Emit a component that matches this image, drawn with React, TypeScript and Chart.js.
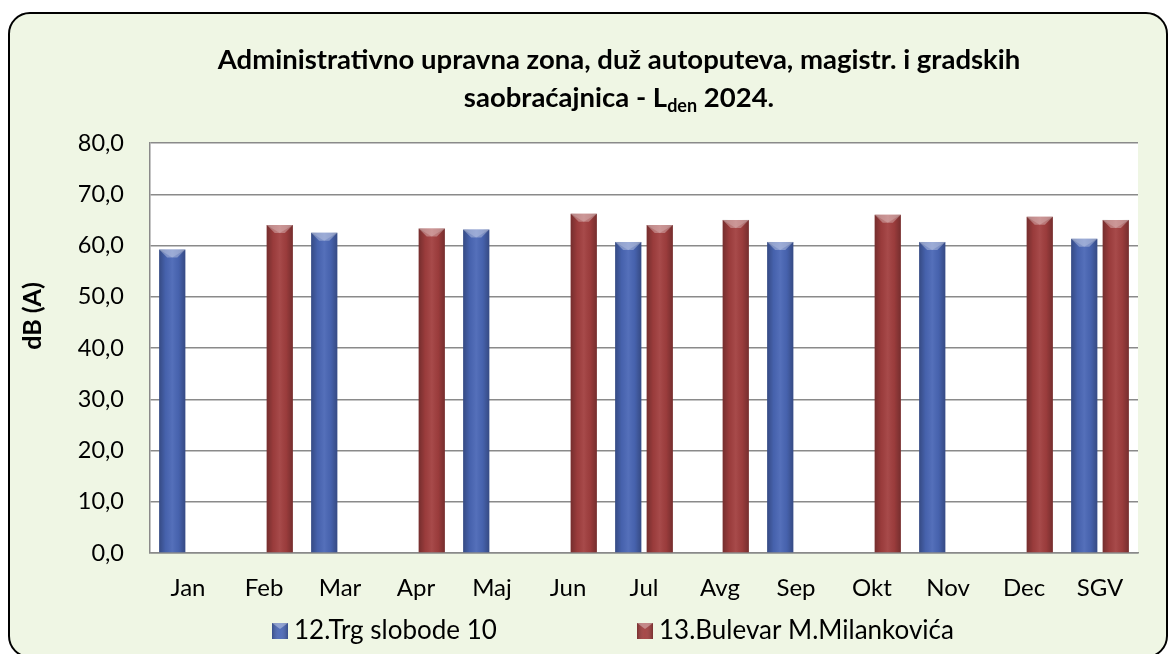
import React, { useEffect, useRef } from "react";
import { Chart, registerables } from "chart.js";

Chart.register(...registerables);

// ---- data ----
const categories = ["Jan", "Feb", "Mar", "Apr", "Maj", "Jun", "Jul", "Avg", "Sep", "Okt", "Nov", "Dec", "SGV"];
const trgSlobode = [59.2, null, 62.5, null, 63.1, null, 60.7, null, 60.7, null, 60.7, null, 61.3];
const bulevarMilankovica = [null, 64.0, null, 63.3, null, 66.2, 64.0, 65.0, null, 66.0, null, 65.6, 65.0];
const seriesNames = ["12.Trg slobode 10", "13.Bulevar M.Milankovića"];
const yMin = 0;
const yMax = 80;
const yStep = 10;
const titleLine1 = "Administrativno upravna zona, duž autoputeva, magistr. i gradskih";
const titleLine2 = ["saobraćajnica - L", "den", " 2024."];
const yAxisTitle = "dB (A)";

// ---- style ----
const FONT = "Lato, 'Open Sans', sans-serif";
const BLUE = "#4A67B6";
const RED = "#A23F3F";
const GRID = "#8a8a8a";
const CANVAS_W = 1156;
const CANVAS_H = 642;

const decorPlugin = {
  id: "decor",
  beforeDraw(chart: any) {
    const { ctx, chartArea: a } = chart;
    ctx.save();
    ctx.fillStyle = "#ffffff";
    ctx.fillRect(a.left, a.top, a.right - a.left, a.bottom - a.top);
    ctx.restore();
  },
  afterDatasetsDraw(chart: any) {
    const ctx = chart.ctx;
    chart.data.datasets.forEach((ds: any, di: number) => {
      const meta = chart.getDatasetMeta(di);
      meta.data.forEach((el: any, i: number) => {
        if (ds.data[i] == null) return;
        const { x, y, base, width } = el.getProps(["x", "y", "base", "width"], true);
        const l = x - width / 2;
        const r = x + width / 2;
        ctx.save();
        const g = ctx.createLinearGradient(l, 0, r, 0);
        g.addColorStop(0, "rgba(0,0,0,0.28)");
        g.addColorStop(0.25, "rgba(0,0,0,0.05)");
        g.addColorStop(0.5, "rgba(255,255,255,0.06)");
        g.addColorStop(0.75, "rgba(0,0,0,0.05)");
        g.addColorStop(1, "rgba(0,0,0,0.28)");
        ctx.fillStyle = g;
        ctx.fillRect(l, y, width, base - y);
        // top bevel
        const d = 8;
        ctx.beginPath();
        ctx.moveTo(l, y);
        ctx.lineTo(r, y);
        ctx.lineTo(r - d, y + d);
        ctx.lineTo(l + d, y + d);
        ctx.closePath();
        ctx.fillStyle = "rgba(255,255,255,0.30)";
        ctx.fill();
        ctx.beginPath();
        ctx.moveTo(l, y);
        ctx.lineTo(x, y + d);
        ctx.lineTo(r, y);
        ctx.closePath();
        ctx.fillStyle = "rgba(255,255,255,0.18)";
        ctx.fill();
        ctx.restore();
      });
    });
  },
  afterDraw(chart: any) {
    const ctx = chart.ctx;
    ctx.save();
    ctx.fillStyle = "#000";
    ctx.textBaseline = "middle";
    // title
    const cx = 609;
    const mainF = `bold 27.5px ${FONT}`;
    const subF = `bold 18px ${FONT}`;
    ctx.font = mainF;
    ctx.textAlign = "center";
    ctx.fillText(titleLine1, cx, 46);
    const w1 = ctx.measureText(titleLine2[0]).width;
    const w3 = ctx.measureText(titleLine2[2]).width;
    ctx.font = subF;
    const w2 = ctx.measureText(titleLine2[1]).width;
    let sx = cx - (w1 + w2 + w3) / 2;
    ctx.textAlign = "left";
    ctx.font = mainF;
    ctx.fillText(titleLine2[0], sx, 84);
    sx += w1;
    ctx.font = subF;
    ctx.fillText(titleLine2[1], sx, 92);
    sx += w2;
    ctx.font = mainF;
    ctx.fillText(titleLine2[2], sx, 84);
    // y axis title
    ctx.save();
    ctx.translate(23, 302);
    ctx.rotate(-Math.PI / 2);
    ctx.textAlign = "center";
    ctx.font = `bold 25px ${FONT}`;
    ctx.fillText(yAxisTitle, 0, 0);
    ctx.restore();
    // legend
    const legX = [262, 627];
    const my = 609;
    const ms = 16;
    chart.data.datasets.forEach((ds: any, i: number) => {
      const lx = legX[i];
      const col = ds.backgroundColor;
      ctx.fillStyle = col;
      ctx.fillRect(lx, my, ms, ms);
      const g = ctx.createLinearGradient(lx, 0, lx + ms, 0);
      g.addColorStop(0, "rgba(0,0,0,0.25)");
      g.addColorStop(0.5, "rgba(255,255,255,0.05)");
      g.addColorStop(1, "rgba(0,0,0,0.25)");
      ctx.fillStyle = g;
      ctx.fillRect(lx, my, ms, ms);
      ctx.beginPath();
      ctx.moveTo(lx, my);
      ctx.lineTo(lx + ms, my);
      ctx.lineTo(lx + ms / 2, my + 6);
      ctx.closePath();
      ctx.fillStyle = "rgba(255,255,255,0.35)";
      ctx.fill();
      ctx.fillStyle = "#000";
      ctx.textAlign = "left";
      ctx.font = `26px ${FONT}`;
      ctx.fillText(ds.label, lx + 22, my + ms / 2);
    });
    ctx.restore();
  },
};

export default function App() {
  const ref = useRef<HTMLCanvasElement | null>(null);

  useEffect(() => {
    if (!ref.current) return;
    const chart = new Chart(ref.current, {
      type: "bar",
      data: {
        labels: categories,
        datasets: [
          {
            label: seriesNames[0],
            data: trgSlobode,
            backgroundColor: BLUE,
            borderWidth: 0,
            categoryPercentage: 0.83,
            barPercentage: 0.83,
          },
          {
            label: seriesNames[1],
            data: bulevarMilankovica,
            backgroundColor: RED,
            borderWidth: 0,
            categoryPercentage: 0.83,
            barPercentage: 0.83,
          },
        ],
      },
      options: {
        animation: false,
        responsive: false,
        maintainAspectRatio: false,
        devicePixelRatio: 1,
        layout: { padding: { top: 129, right: 28, bottom: 43, left: 0 } },
        plugins: {
          legend: { display: false },
          title: { display: false },
          tooltip: { enabled: false },
        },
        scales: {
          x: {
            type: "category",
            grid: { display: false, drawTicks: false },
            border: { display: true, color: GRID, width: 1.5 },
            ticks: { color: "#000", font: { family: FONT, size: 24 }, padding: 21, maxRotation: 0 },
            afterFit: (s: any) => {
              s.height = 60;
            },
          },
          y: {
            min: yMin,
            max: yMax,
            grid: { color: GRID, lineWidth: 1.5, drawTicks: false },
            border: { display: true, color: GRID, width: 1.5 },
            ticks: {
              stepSize: yStep,
              color: "#000",
              font: { family: FONT, size: 23.5 },
              padding: 26,
              callback: (v: any) => Number(v).toFixed(1).replace(".", ","),
            },
            afterFit: (s: any) => {
              s.width = 140;
            },
          },
        },
      },
      plugins: [decorPlugin],
    });
    return () => chart.destroy();
  }, []);

  return (
    <div
      style={{
        position: "relative",
        top: 4,
        width: 1160,
        height: 646,
        boxSizing: "border-box",
        border: "2px solid #000",
        borderRadius: 22,
        background: "#EFF6E4",
        overflow: "hidden",
      }}
    >
      <canvas ref={ref} width={CANVAS_W} height={CANVAS_H} style={{ display: "block" }} />
    </div>
  );
}
